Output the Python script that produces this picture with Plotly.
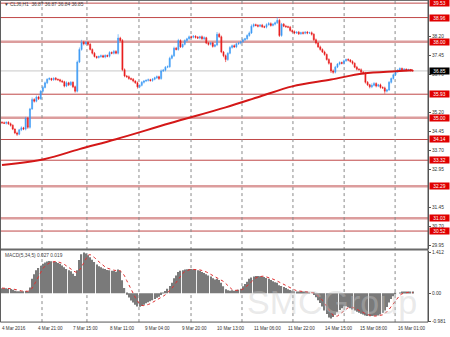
import plotly.graph_objects as go

# ---------------- data ----------------
first_open = 34.82
closes = [34.80, 34.78, 34.82, 34.76, 34.70, 34.55, 34.40, 34.35, 34.52, 34.60,
          34.55, 34.98, 34.62, 35.35, 35.72, 35.65, 35.82, 35.75, 36.05, 36.20,
          36.38, 36.52, 36.55, 36.50, 36.56, 36.52, 36.50, 36.45, 36.42, 36.25,
          36.38, 36.30, 36.40, 36.22, 36.05, 37.20, 37.70, 37.98, 37.92, 37.98,
          37.90, 37.70, 37.55, 37.42, 37.38, 37.42, 37.45, 37.40, 37.46, 37.43,
          37.58, 37.55, 37.62, 37.55, 38.15, 38.05, 36.90, 36.65, 36.62, 36.55,
          36.52, 36.45, 36.38, 36.22, 36.28, 36.40, 36.45, 36.48, 36.50, 36.47,
          36.52, 36.58, 36.62, 36.55, 36.85, 36.88, 37.00, 37.02, 37.35, 37.45,
          37.75, 37.70, 38.05, 37.80, 37.90, 38.05, 38.12, 38.20, 38.18, 38.22,
          38.18, 38.15, 38.20, 38.12, 38.16, 37.95, 37.90, 37.95, 37.82, 37.88,
          38.30, 38.20, 37.60, 37.45, 37.30, 37.55, 37.78, 37.85, 37.80, 37.92,
          37.95, 38.00, 38.08, 38.12, 38.25, 38.35, 38.62, 38.68, 38.65, 38.62,
          38.66, 38.60, 38.58, 38.68, 38.72, 38.65, 38.70, 38.75, 38.85, 38.25,
          38.70, 38.62, 38.60, 38.58, 38.45, 38.40, 38.35, 38.38, 38.32, 38.36,
          38.34, 38.38, 38.35, 38.36, 38.30, 38.08, 37.95, 37.80, 37.70, 37.60,
          37.50, 37.30, 37.15, 36.85, 36.80, 37.00, 37.12, 37.18, 37.15, 37.25,
          37.30, 37.28, 37.22, 37.15, 37.00, 36.92, 36.90, 36.80, 36.75, 36.40,
          36.30, 36.22, 36.28, 36.35, 36.25, 36.30, 36.20, 36.18, 36.05, 36.10,
          36.40, 36.55, 36.70, 36.82, 36.88, 36.95, 36.90, 36.92, 36.88, 36.90,
          36.87, 36.85]

hi_wick = [0.04,0.05,0.03,0.04,0.05,0.04,0.03,0.05,0.04,0.06,0.04,0.06,
           0.05,0.04,0.08,0.05,0.06,0.05,0.04,0.06,0.05,0.04,0.05,0.03,
           0.04,0.05,0.03,0.04,0.05,0.04,0.06,0.04,0.05,0.04,0.05,0.06,
           0.08,0.10,0.06,0.05,0.04,0.05,0.04,0.05,0.03,0.04,0.05,0.04,
           0.05,0.04,0.05,0.04,0.06,0.05,0.15,0.05,0.06,0.05,0.04,0.05,
           0.04,0.05,0.03,0.05,0.04,0.05,0.04,0.03,0.05,0.04,0.05,0.04,
           0.05,0.04,0.06,0.05,0.04,0.05,0.06,0.05,0.06,0.05,0.07,0.05,
           0.04,0.05,0.04,0.05,0.04,0.05,0.04,0.05,0.04,0.05,0.06,0.04,
           0.05,0.04,0.05,0.04,0.09,0.06,0.05,0.04,0.05,0.04,0.05,0.04,
           0.05,0.04,0.05,0.04,0.05,0.04,0.05,0.06,0.07,0.05,0.04,0.05,
           0.04,0.05,0.04,0.05,0.06,0.05,0.04,0.05,0.13,0.06,0.05,0.04,
           0.05,0.04,0.05,0.04,0.05,0.04,0.05,0.04,0.05,0.04,0.05,0.04,
           0.05,0.04,0.05,0.04,0.05,0.04,0.05,0.04,0.05,0.04,0.06,0.05,
           0.04,0.05,0.04,0.05,0.04,0.05,0.04,0.05,0.04,0.05,0.04,0.05,
           0.04,0.06,0.05,0.04,0.08,0.06,0.05,0.04,0.05,0.04,0.05,0.04,
           0.05,0.04,0.05,0.04,0.05,0.04,0.03,0.04,0.03,0.04,0.03,0.02]

lo_wick = [0.04,0.03,0.05,0.04,0.05,0.04,0.05,0.07,0.04,0.05,0.04,0.05,
           0.06,0.05,0.04,0.05,0.04,0.05,0.04,0.05,0.04,0.05,0.04,0.05,
           0.04,0.05,0.04,0.05,0.04,0.05,0.04,0.05,0.04,0.05,0.06,0.05,
           0.04,0.05,0.06,0.04,0.05,0.04,0.05,0.04,0.05,0.04,0.05,0.04,
           0.05,0.04,0.05,0.04,0.05,0.04,0.05,0.04,0.06,0.05,0.04,0.05,
           0.04,0.05,0.04,0.07,0.05,0.04,0.05,0.04,0.05,0.04,0.05,0.04,
           0.05,0.06,0.05,0.04,0.05,0.04,0.05,0.04,0.05,0.04,0.05,0.04,
           0.05,0.04,0.05,0.04,0.05,0.04,0.05,0.04,0.05,0.04,0.05,0.04,
           0.05,0.04,0.05,0.04,0.05,0.04,0.05,0.06,0.10,0.05,0.04,0.05,
           0.04,0.05,0.04,0.05,0.04,0.05,0.04,0.05,0.04,0.05,0.04,0.05,
           0.04,0.05,0.04,0.05,0.04,0.05,0.04,0.05,0.04,0.06,0.05,0.04,
           0.05,0.04,0.05,0.04,0.05,0.04,0.05,0.04,0.05,0.04,0.05,0.04,
           0.05,0.04,0.05,0.04,0.05,0.04,0.05,0.04,0.05,0.08,0.06,0.05,
           0.04,0.05,0.04,0.05,0.04,0.05,0.04,0.05,0.04,0.05,0.04,0.05,
           0.04,0.05,0.04,0.06,0.05,0.04,0.05,0.04,0.05,0.04,0.10,0.05,
           0.04,0.05,0.04,0.05,0.04,0.05,0.04,0.03,0.04,0.03,0.04,0.03]

# moving average (sparse readings, bar index -> value)
ma_idx = [0, 20, 36, 53, 78, 104, 120, 135, 153, 168, 183, 191]
ma_val = [33.13, 33.37, 33.76, 34.15, 34.78, 35.41, 35.84, 36.24, 36.51, 36.75, 36.84, 36.88]

macd_hist = [0.17,0.17,0.17,0.16,0.15,0.12,0.09,0.07,0.07,0.07,0.07,0.08,
             0.07,0.20,0.50,0.66,0.80,0.88,0.95,1.02,1.07,1.10,1.12,1.11,
             1.10,1.08,1.05,1.02,0.96,0.90,0.84,0.80,0.76,0.68,0.60,0.80,
             1.15,1.35,1.41,1.38,1.32,1.25,1.16,1.08,1.00,0.94,0.90,0.86,
             0.84,0.81,0.80,0.78,0.77,0.75,0.82,0.78,0.45,0.18,-0.05,-0.15,
             -0.25,-0.32,-0.40,-0.46,-0.47,-0.44,-0.40,-0.35,-0.31,-0.28,-0.24,-0.20,
             -0.16,-0.12,-0.06,0.02,0.08,0.16,0.25,0.36,0.52,0.62,0.74,0.78,
             0.80,0.82,0.83,0.84,0.84,0.83,0.82,0.80,0.78,0.74,0.70,0.66,
             0.62,0.58,0.52,0.48,0.50,0.46,0.36,0.24,0.14,0.10,0.09,0.10,
             0.09,0.10,0.12,0.16,0.24,0.32,0.40,0.50,0.55,0.58,0.60,0.60,
             0.59,0.58,0.56,0.53,0.50,0.46,0.42,0.38,0.36,0.28,0.25,0.22,
             0.18,0.14,0.11,0.09,0.07,0.06,0.05,0.05,0.04,0.04,0.03,0.02,
             0.00,-0.06,-0.14,-0.24,-0.34,-0.46,-0.60,-0.72,-0.84,-0.88,-0.82,-0.75,
             -0.66,-0.58,-0.52,-0.46,-0.45,-0.48,-0.52,-0.56,-0.60,-0.64,-0.68,-0.71,
             -0.74,-0.77,-0.79,-0.80,-0.79,-0.78,-0.78,-0.77,-0.74,-0.68,-0.60,-0.48,
             -0.32,-0.20,-0.10,-0.04,0.00,0.02,0.03,0.03,0.03,0.03,0.03,0.027]

macd_signal = [0.18,0.18,0.17,0.17,0.16,0.15,0.14,0.12,0.10,0.08,0.07,0.07,
               0.07,0.10,0.18,0.30,0.45,0.61,0.76,0.86,0.94,1.00,1.05,1.08,
               1.10,1.10,1.09,1.07,1.04,1.00,0.95,0.90,0.85,0.79,0.74,0.73,
               0.80,0.92,1.06,1.22,1.32,1.34,1.30,1.24,1.16,1.09,1.02,0.96,
               0.91,0.87,0.84,0.82,0.80,0.79,0.79,0.78,0.71,0.60,0.44,0.28,
               0.12,-0.01,-0.15,-0.28,-0.36,-0.42,-0.43,-0.42,-0.39,-0.36,-0.32,-0.28,
               -0.24,-0.20,-0.16,-0.10,-0.05,0.02,0.09,0.17,0.27,0.38,0.50,0.60,
               0.69,0.75,0.79,0.81,0.83,0.83,0.83,0.83,0.81,0.79,0.77,0.74,
               0.70,0.66,0.62,0.57,0.54,0.51,0.46,0.41,0.34,0.26,0.19,0.13,
               0.10,0.10,0.10,0.11,0.14,0.19,0.25,0.32,0.40,0.47,0.53,0.56,
               0.58,0.59,0.59,0.57,0.55,0.53,0.49,0.46,0.42,0.38,0.34,0.30,
               0.26,0.22,0.18,0.15,0.12,0.09,0.08,0.06,0.05,0.05,0.04,0.04,
               0.03,0.01,-0.03,-0.08,-0.16,-0.25,-0.36,-0.47,-0.59,-0.70,-0.77,-0.80,
               -0.79,-0.73,-0.67,-0.59,-0.53,-0.50,-0.49,-0.49,-0.52,-0.56,-0.60,-0.64,
               -0.67,-0.71,-0.74,-0.76,-0.78,-0.79,-0.79,-0.78,-0.77,-0.75,-0.71,-0.65,
               -0.56,-0.46,-0.36,-0.25,-0.15,-0.07,-0.02,0.01,0.02,0.03,0.02,0.019]

levels = [39.53, 38.96, 38.00, 35.93, 35.00, 34.14, 33.32, 32.29, 31.03, 30.52]
level_thick = [False, False, True, False, True, False, False, True, True, False]
bid = 36.85

# price-scale ticks (those fully hidden behind level boxes are left out)
price_ticks = [29.95, 30.70, 31.45, 32.95, 33.70, 34.45, 35.20,
               36.70, 37.45, 38.20]
macd_ticks = [1.412, 0.0, -0.981]
macd_tick_text = ["1.412", "0.00", "-0.981"]

time_labels = ["4 Mar 2016", "4 Mar 21:00", "7 Mar 15:00", "8 Mar 11:00", "9 Mar 04:00",
               "9 Mar 20:00", "10 Mar 13:00", "11 Mar 06:00", "11 Mar 22:00",
               "14 Mar 15:00", "15 Mar 08:00", "16 Mar 01:00"]
time_label_idx = [0, 16.7, 33, 50, 66.5, 83.7, 100, 117, 133, 150, 166.5, 184]
day_sep_idx = [18.6, 39.5, 63.7, 87.9, 111.6, 135.3, 159.1, 182.8]

title_text = "▼ CLJ6,H1  36.87 36.87 36.84 36.85"
macd_label = "MACD(5,34,5) 0.027 0.019"

# ---------------- build ----------------
N = len(closes)
idx = list(range(N))
opens = [first_open] + closes[:-1]
highs = [max(o, c) + w for o, c, w in zip(opens, closes, hi_wick)]
lows = [min(o, c) - w for o, c, w in zip(opens, closes, lo_wick)]

UP = "#3d9bf5"
DN = "#e81a1a"
FONT = "Liberation Sans"
TXT = 4.8

fig = go.Figure()
fig.add_trace(go.Candlestick(
    x=idx, open=opens, high=highs, low=lows, close=closes,
    increasing=dict(line=dict(color=UP, width=0.6), fillcolor=UP),
    decreasing=dict(line=dict(color=DN, width=0.6), fillcolor=DN),
    whiskerwidth=0, hoverinfo="skip", xaxis="x", yaxis="y", showlegend=False))
fig.add_trace(go.Scatter(
    x=ma_idx, y=ma_val, mode="lines",
    line=dict(color="#d41818", width=2, shape="spline"),
    hoverinfo="skip", xaxis="x", yaxis="y", showlegend=False))
fig.add_trace(go.Bar(
    x=idx, y=macd_hist, marker=dict(color="#7a7a7a", line=dict(width=0)),
    hoverinfo="skip", xaxis="x2", yaxis="y2", showlegend=False))
fig.add_trace(go.Scatter(
    x=idx, y=macd_signal, mode="lines",
    line=dict(color="#e03030", width=1, dash="dot"),
    hoverinfo="skip", xaxis="x2", yaxis="y2", showlegend=False))

XD = 428 / 450
main_dom = [(337 - 250) / 337, 1.0]
macd_dom = [(337 - 324) / 337, (337 - 252) / 337]
xr = [-0.93, 198.1]

shapes = []
for lv, th in zip(levels, level_thick):
    shapes.append(dict(type="line", xref="paper", yref="y", x0=0, x1=XD, y0=lv, y1=lv,
                       layer="below",
                       line=dict(color="rgba(214,140,140,0.85)" if th else "#c04848",
                                 width=2.5 if th else 1)))
shapes.append(dict(type="line", xref="paper", yref="y", x0=0, x1=XD, y0=bid, y1=bid,
                   layer="below", line=dict(color="#c8c8c8", width=1)))
for s in day_sep_idx:
    shapes.append(dict(type="line", xref="x", yref="paper", x0=s, x1=s,
                       y0=macd_dom[0], y1=1, layer="below",
                       line=dict(color="#8a8a8a", width=1, dash="dot")))
# panel separator and frame
shapes.append(dict(type="line", xref="paper", yref="paper", x0=0, x1=XD,
                   y0=(337 - 251) / 337, y1=(337 - 251) / 337,
                   line=dict(color="#6a6a6a", width=2)))
shapes.append(dict(type="rect", xref="paper", yref="paper", x0=0.001, x1=XD,
                   y0=macd_dom[0], y1=0.999, line=dict(color="#555555", width=1)))

ann = []
for lv in levels:
    ann.append(dict(xref="paper", yref="y", x=XD, y=lv, xanchor="left", yanchor="middle",
                    text=f"{lv:.2f}", showarrow=False, bgcolor="#e00000",
                    font=dict(color="white", size=TXT, family=FONT),
                    width=18, height=5, borderpad=0.5, xshift=1))
ann.append(dict(xref="paper", yref="y", x=XD, y=bid, xanchor="left", yanchor="middle",
                text=f"{bid:.2f}", showarrow=False, bgcolor="#000000",
                font=dict(color="white", size=TXT, family=FONT),
                width=18, height=5, borderpad=0.5, xshift=1))
for t, xi in zip(time_labels, time_label_idx):
    ann.append(dict(xref="x", yref="paper", x=xi, y=(337 - 330) / 337,
                    xanchor="left", yanchor="middle", text=t, showarrow=False,
                    font=dict(color="#333333", size=4.6, family=FONT), xshift=-1,
                    borderpad=0))
ann.append(dict(xref="paper", yref="paper", x=0.004, y=(337 - 5) / 337,
                xanchor="left", yanchor="middle", text=title_text, showarrow=False,
                font=dict(color="#444444", size=TXT, family=FONT)))
ann.append(dict(xref="paper", yref="paper", x=0.006, y=(337 - 257) / 337,
                xanchor="left", yanchor="middle", text=macd_label, showarrow=False,
                font=dict(color="#444444", size=TXT, family=FONT)))
ann.append(dict(xref="paper", yref="paper", x=332 / 450, y=(337 - 324) / 337,
                xanchor="center", yanchor="bottom", text="SMCGroup", showarrow=False,
                borderpad=0,
                font=dict(color="rgba(200,200,200,0.4)", size=34, family=FONT)))

fig.update_layout(
    width=450, height=337, margin=dict(l=0, r=0, t=0, b=0),
    paper_bgcolor="white", plot_bgcolor="white",
    bargap=0.45, showlegend=False, hovermode=False,
    font=dict(family=FONT, size=TXT, color="#333333"),
    xaxis=dict(domain=[0, XD], range=xr, anchor="y", showticklabels=False,
               showgrid=False, zeroline=False, rangeslider=dict(visible=False),
               fixedrange=True),
    xaxis2=dict(domain=[0, XD], range=xr, anchor="y2", matches="x",
                showticklabels=False, showgrid=False, zeroline=False),
    yaxis=dict(domain=main_dom, range=[29.83, 39.654], side="right",
               tickvals=price_ticks, ticktext=[f"{v:.2f}" for v in price_ticks],
               tickfont=dict(size=TXT, color="#333333"), showgrid=False, zeroline=False,
               showline=True, linecolor="#555555", linewidth=1,
               ticks="outside", ticklen=2, tickcolor="#555555"),
    yaxis2=dict(domain=macd_dom, range=[-1.0, 1.483], side="right",
                tickvals=macd_ticks, ticktext=macd_tick_text,
                tickfont=dict(size=TXT, color="#333333"), showgrid=False, zeroline=False,
                showline=True, linecolor="#555555", linewidth=1,
                ticks="outside", ticklen=2, tickcolor="#555555"),
    shapes=shapes, annotations=ann,
)

fig.write_html("out.html")
